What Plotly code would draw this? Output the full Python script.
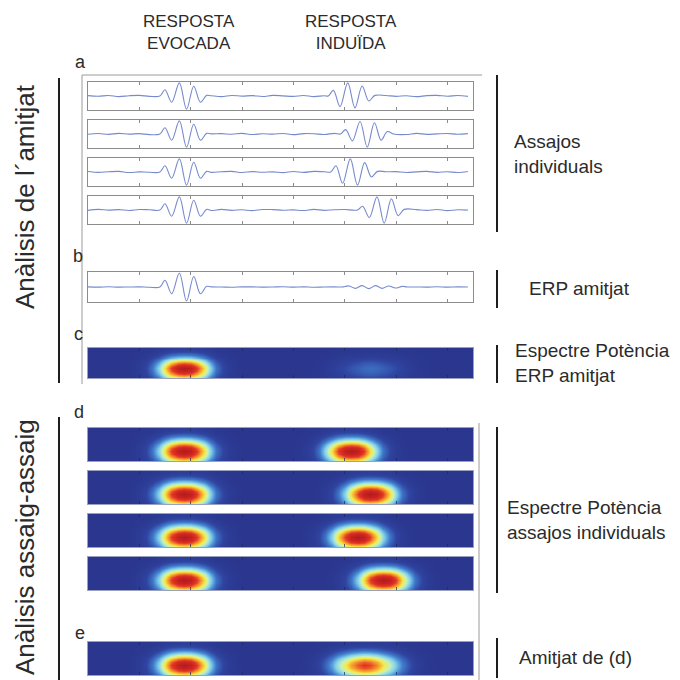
import numpy as np
import plotly.graph_objects as go

W = H = 680
FONT = "Liberation Sans, Arial, sans-serif"
TXT = "#2b2b2b"

# ---------------- data ----------------
T_RANGE = [0, 750]
TICKS = [100, 200, 300, 400, 500, 600, 700]
NOISE_STEP = 20  # ms between baseline samples

noise_1 = [0.03, -0.02, 0.04, -0.05, 0.02, 0.05, -0.03, 0.01, -0.04, 0.03, 0.06, -0.02, 0.02,
           -0.05, 0.04, -0.01, 0.03, -0.04, 0.05, 0.01, -0.03, 0.04, -0.05, 0.02, 0.03, -0.02,
           0.05, -0.04, 0.01, 0.04, -0.03, 0.02, -0.05, 0.03, 0.05, -0.02, 0.04, -0.03]
noise_2 = [-0.02, 0.04, -0.03, 0.05, -0.01, 0.03, -0.05, 0.04, 0.02, -0.03, 0.05, -0.04, 0.01,
           0.03, -0.02, 0.05, -0.04, 0.02, -0.01, 0.04, -0.05, 0.03, 0.02, -0.04, 0.05, -0.02,
           0.03, -0.05, 0.04, -0.01, 0.02, -0.04, 0.05, -0.03, 0.01, 0.04, -0.02, 0.03]
noise_3 = [0.04, -0.03, 0.02, 0.05, -0.04, 0.01, -0.02, 0.05, -0.05, 0.03, -0.01, 0.04, -0.03,
           0.02, 0.05, -0.04, 0.03, -0.02, 0.01, -0.05, 0.04, -0.03, 0.05, 0.02, -0.04, 0.03,
           -0.01, 0.04, -0.05, 0.02, 0.03, -0.04, 0.01, 0.05, -0.03, 0.02, -0.04, 0.04]
noise_4 = [-0.03, 0.05, -0.01, 0.03, -0.04, 0.04, 0.02, -0.05, 0.03, -0.02, 0.04, 0.01, -0.04,
           0.05, -0.03, 0.02, -0.05, 0.04, 0.03, -0.02, 0.01, -0.04, 0.05, -0.03, 0.02, 0.04,
           -0.05, 0.03, -0.02, 0.05, -0.04, 0.01, 0.03, -0.03, 0.04, -0.05, 0.02, -0.01]
noise_erp = [0.01, -0.01, 0.02, -0.01, 0.0, 0.01, -0.02, 0.01, 0.0, -0.01, 0.02, -0.01, 0.01,
             0.0, -0.02, 0.01, 0.01, -0.01, 0.0, 0.02, -0.01, 0.01, -0.02, 0.0, 0.01, -0.01,
             0.02, 0.0, -0.01, 0.01, -0.02, 0.01, 0.0, -0.01, 0.02, -0.01, 0.01, 0.0]

# evoked burst (phase-locked, identical latency in every trial)
ev_t = [140, 150, 163, 178, 192, 206, 219, 231]
ev_v = [0.0, 0.5, -0.5, 1.05, -1.05, 0.78, -0.5, 0.05]

# induced bursts (latency jitters trial to trial)
ind1_t = [468, 478, 491, 506, 520, 534, 547, 559]
ind1_v = [0.0, 0.45, -0.85, 1.05, -0.95, 0.8, -0.4, 0.05]
ind2_t = [492, 502, 515, 530, 544, 558, 571, 583, 595]
ind2_v = [0.0, 0.35, -0.55, 1.0, -1.05, 0.9, -0.5, 0.2, 0.0]
ind3_t = [473, 483, 496, 511, 525, 539, 552, 564]
ind3_v = [0.0, 0.5, -0.9, 1.05, -1.05, 0.75, -0.4, 0.05]
ind4_t = [525, 535, 548, 563, 577, 591, 604, 616]
ind4_v = [0.0, 0.3, -0.6, 1.05, -1.05, 0.9, -0.45, 0.05]

# ERP: the induced part nearly cancels out
erp_ind_t = [495, 508, 521, 534, 547, 560, 573, 586, 599, 612, 622]
erp_ind_v = [0.0, 0.08, -0.1, 0.1, -0.12, 0.1, -0.1, 0.08, -0.08, 0.05, 0.0]

# time-frequency power maps
HM_STEP = 12.5
HM_T = np.arange(0, 750 + HM_STEP / 2, HM_STEP)
T_PROFILE = [0.01, 0.03, 0.08, 0.18, 0.36, 0.6, 0.82, 0.96, 1.0,
             0.96, 0.82, 0.6, 0.36, 0.18, 0.08, 0.03, 0.01]        # offsets -100..100 ms
F_PROFILE = [0.62, 0.82, 0.95, 1.0, 0.93, 0.77, 0.55, 0.35, 0.2, 0.1, 0.05]  # bottom -> top
ev_center = 187.5
d_centers = [512.5, 550.0, 525.0, 575.0]
c_ind_centers = [525.0, 575.0]
c_ind_peak = 0.1

JET = [[0.0, "rgb(43,55,143)"], [0.08, "rgb(47,68,160)"], [0.2, "rgb(65,125,205)"],
       [0.34, "rgb(130,210,235)"], [0.46, "rgb(200,240,185)"], [0.57, "rgb(245,235,70)"],
       [0.7, "rgb(245,150,45)"], [0.83, "rgb(226,50,35)"], [1.0, "rgb(180,26,30)"]]


# ---------------- helpers ----------------
def trace_points(noise, bursts):
    nt = [NOISE_STEP * i for i in range(len(noise))]
    pts = []
    for t, v in zip(nt, noise):
        if all(not (bt[0] - 6 <= t <= bt[-1] + 6) for bt, _ in bursts):
            pts.append((t, v))
    for bt, bv in bursts:
        pts.extend(zip(bt, bv))
    pts.sort()
    return [p[0] for p in pts], [p[1] for p in pts]


def blob(center, peak):
    z = np.zeros((len(F_PROFILE), len(HM_T)))
    i0 = int(round(center / HM_STEP))
    half = len(T_PROFILE) // 2
    for k, tv in enumerate(T_PROFILE):
        j = i0 + k - half
        if 0 <= j < len(HM_T):
            z[:, j] += peak * tv * np.array(F_PROFILE)
    return z


def px_x(p):
    return p / W


def px_y(p):
    return 1 - p / H


# ---------------- panels ----------------
X0, X1 = 88, 473
line_panels = [(82, 110), (120, 148), (158, 186), (196, 224), (272, 302)]
heat_panels = [(348, 378), (428, 461), (471, 504), (514, 547), (557, 590), (642, 675)]

fig = go.Figure()
layout = dict(width=W, height=H, margin=dict(l=0, r=0, t=0, b=0),
              paper_bgcolor="white", plot_bgcolor="white", showlegend=False,
              font=dict(family=FONT, color=TXT))

traces_data = [
    (noise_1, [(ev_t, ev_v), (ind1_t, ind1_v)]),
    (noise_2, [(ev_t, ev_v), (ind2_t, ind2_v)]),
    (noise_3, [(ev_t, ev_v), (ind3_t, ind3_v)]),
    (noise_4, [(ev_t, ev_v), (ind4_t, ind4_v)]),
    (noise_erp, [(ev_t, ev_v), (erp_ind_t, erp_ind_v)]),
]

n = 0
for (top, bot), (noise, bursts) in zip(line_panels, traces_data):
    n += 1
    xs, ys = trace_points(noise, bursts)
    fig.add_trace(go.Scatter(x=xs, y=ys, mode="lines",
                             line=dict(color="rgb(118,138,205)", width=1.1, shape="spline", smoothing=1.0),
                             xaxis=f"x{n}", yaxis=f"y{n}", hoverinfo="skip"))
    layout[f"xaxis{n}"] = dict(domain=[px_x(X0), px_x(X1)], anchor=f"y{n}", range=T_RANGE,
                               tickvals=TICKS, ticks="inside", ticklen=3, tickcolor="#8c8c8c",
                               showticklabels=False, showgrid=False, zeroline=False,
                               showline=True, linecolor="#8c8c8c", linewidth=1, mirror="ticks")
    layout[f"yaxis{n}"] = dict(domain=[px_y(bot), px_y(top)], anchor=f"x{n}", range=[-1.12, 1.12],
                               showticklabels=False, showgrid=False, zeroline=False, ticks="",
                               showline=True, linecolor="#8c8c8c", linewidth=1, mirror=True)

# power maps: c (ERP power), d (single trials), e (mean of d)
z_c = blob(ev_center, 1.0)
for c in c_ind_centers:
    z_c = z_c + blob(c, c_ind_peak)
z_d = [np.clip(blob(ev_center, 1.0) + blob(c, 1.0), 0, 1) for c in d_centers]
z_e = np.mean(z_d, axis=0)
maps = [np.clip(z_c, 0, 1)] + z_d + [z_e]

for (top, bot), z in zip(heat_panels, maps):
    n += 1
    fig.add_trace(go.Heatmap(z=z, x=HM_T, y=list(range(len(F_PROFILE))), zmin=0, zmax=1,
                             colorscale=JET, zsmooth="best", showscale=False,
                             xaxis=f"x{n}", yaxis=f"y{n}", hoverinfo="skip"))
    layout[f"xaxis{n}"] = dict(domain=[px_x(X0), px_x(X1)], anchor=f"y{n}", range=T_RANGE,
                               tickvals=TICKS, ticks="inside", ticklen=3,
                               tickcolor="rgba(30,40,90,0.7)", showticklabels=False,
                               showgrid=False, zeroline=False, showline=True,
                               linecolor="#9aa0c0", linewidth=1, mirror="ticks")
    layout[f"yaxis{n}"] = dict(domain=[px_y(bot), px_y(top)], anchor=f"x{n}",
                               range=[-0.5, len(F_PROFILE) - 0.5], showticklabels=False,
                               showgrid=False, zeroline=False, ticks="", showline=True,
                               linecolor="#9aa0c0", linewidth=1, mirror=True)

# ---------------- decoration ----------------
shapes = []


def vline(x, y0, y1, color, w):
    shapes.append(dict(type="line", xref="paper", yref="paper", x0=px_x(x), x1=px_x(x),
                       y0=px_y(y0), y1=px_y(y1), line=dict(color=color, width=w)))


def hline(y, x0, x1, color, w):
    shapes.append(dict(type="line", xref="paper", yref="paper", x0=px_x(x0), x1=px_x(x1),
                       y0=px_y(y), y1=px_y(y), line=dict(color=color, width=w)))


# grey frame lines
hline(75, 82, 482, "#9a9a9a", 1)
vline(82, 75, 384, "#9a9a9a", 1)
vline(479, 423, 680, "#9a9a9a", 1)
# black brackets
vline(59, 78, 383, "#1e1e1e", 2)
vline(59, 417, 680, "#1e1e1e", 2)
for y0, y1 in [(75, 232), (270, 308), (345, 383), (427, 593), (638, 678)]:
    vline(497, y0, y1, "#1e1e1e", 2)

ann = []


def text(x, y, s, size, xanchor="left", angle=0):
    ann.append(dict(x=px_x(x), y=px_y(y), xref="paper", yref="paper", text=s, showarrow=False,
                    xanchor=xanchor, yanchor="middle", textangle=angle,
                    align=xanchor if xanchor != "center" else "center",
                    font=dict(family=FONT, size=size, color=TXT)))


text(189, 32, "RESPOSTA<br>EVOCADA", 17, "center")
text(351, 32, "RESPOSTA<br>INDUÏDA", 17, "center")
text(80, 62, "a", 18, "center")
text(78, 256, "b", 18, "center")
text(78, 334, "c", 18, "center")
text(79, 412, "d", 18, "center")
text(80, 633, "e", 18, "center")
text(512, 154, "Assajos<br>individuals", 19)
text(527, 288, "ERP amitjat", 19)
text(513, 363, "Espectre Potència<br>ERP amitjat", 19)
text(505, 520, "Espectre Potència<br>assajos individuals", 19)
text(517, 657, "Amitjat de (d)", 19)
text(25, 197, "Anàlisis de l´amitjat", 26, "center", -90)
text(25, 547, "Anàlisis assaig-assaig", 26, "center", -90)

layout["shapes"] = shapes
layout["annotations"] = ann
fig.update_layout(**layout)
fig.write_html("out.html")
